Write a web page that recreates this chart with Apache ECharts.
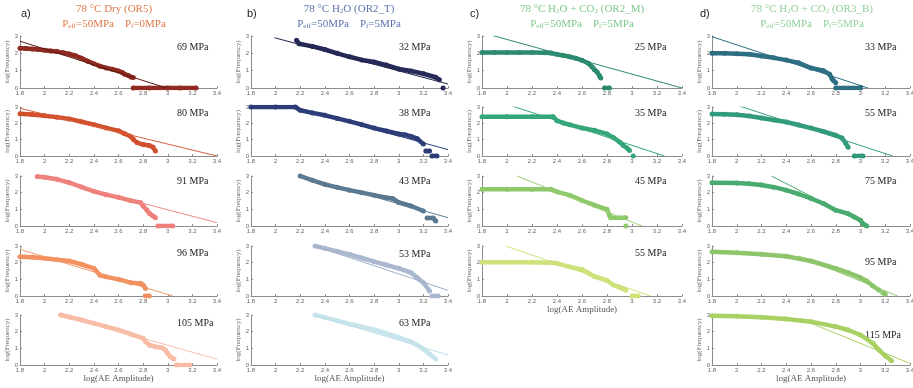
<!DOCTYPE html>
<html><head><meta charset="utf-8">
<script src="https://cdn.jsdelivr.net/npm/echarts@6/dist/echarts.min.js"></script>
<style>html,body{margin:0;padding:0;background:#fff}#c{width:913px;height:388px}</style>
</head><body><div id="c"></div>
<script>
// ---------- DATA (log(AE Amplitude), log(Frequency)) ; '-' breaks a run ----------
// a) 78 °C Dry (OR5)
const a69  = [[1.8,2.3],[1.85,2.28],[1.9,2.25],[1.95,2.22],[2.0,2.18],[2.05,2.14],[2.1,2.1],[2.15,2.04],[2.2,1.96],[2.25,1.86],[2.3,1.72],[2.35,1.55],[2.4,1.4],[2.45,1.26],[2.5,1.16],[2.55,1.08],[2.6,0.98],[2.63,0.9],[2.65,0.8],[2.68,0.72],[2.7,0.64],[2.72,0.6],'-',[2.72,0],[2.85,0],[3.0,0],[3.1,0],[3.23,0]];
const a80  = [[1.8,2.58],[1.9,2.54],[2.0,2.47],[2.1,2.38],[2.2,2.27],[2.3,2.1],[2.4,1.92],[2.5,1.72],[2.6,1.54],[2.65,1.36],[2.7,1.2],[2.72,1.02],[2.75,0.82],[2.8,0.7],[2.85,0.64],[2.88,0.54],[2.9,0.3]];
const a91  = [[1.94,2.97],[2.0,2.92],[2.1,2.8],[2.2,2.6],[2.3,2.34],[2.4,2.08],[2.5,1.88],[2.6,1.72],[2.7,1.52],[2.78,1.4],[2.8,1.2],[2.83,0.96],[2.85,0.76],[2.88,0.6],[2.9,0.5],'-',[2.92,0],[3.04,0]];
const a96  = [[1.8,2.36],[1.9,2.32],[2.0,2.26],[2.1,2.18],[2.2,2.1],[2.3,1.9],[2.4,1.66],[2.45,1.25],[2.5,1.15],[2.6,1.0],[2.7,0.8],[2.78,0.75],[2.8,0.66],[2.82,0.45],'-',[2.82,0],[2.85,0]];
const a105 = [[2.13,3.0],[2.2,2.88],[2.3,2.7],[2.4,2.5],[2.5,2.3],[2.6,2.1],[2.7,1.85],[2.8,1.6],[2.82,1.4],[2.85,1.2],[2.9,1.1],[2.95,1.04],[2.98,0.9],[3.0,0.7],[3.02,0.5],[3.05,0.36],'-',[3.07,0],[3.18,0]];
const fitA = [[[1.8,2.7],[2.99,0]],[[1.8,2.92],[3.4,0]],[[1.95,3.0],[3.4,0.2]],[[1.8,2.8],[3.04,0]],[[2.13,3.0],[3.4,0.35]]];
const stressA = ['69 MPa','80 MPa','91 MPa','96 MPa','105 MPa'];

// b) 78 °C H2O (OR2_T)
const b32 = [[2.17,2.75],[2.19,2.55],[2.3,2.4],[2.4,2.22],[2.5,2.0],[2.6,1.8],[2.7,1.62],[2.8,1.5],[2.9,1.32],[3.0,1.1],[3.1,0.98],[3.2,0.82],[3.3,0.62],[3.33,0.47],'-',[3.36,0]];
const b38 = [[1.8,3.0],[2.0,3.0],[2.16,3.0],[2.2,2.8],[2.3,2.64],[2.4,2.49],[2.5,2.3],[2.6,2.12],[2.7,1.92],[2.8,1.71],[2.9,1.53],[3.0,1.35],[3.05,1.3],[3.1,1.2],[3.15,1.06],[3.2,0.73],'-',[3.22,0.3],[3.25,0.3],'-',[3.27,0],[3.31,0]];
const b43 = [[2.2,3.0],[2.3,2.74],[2.4,2.5],[2.5,2.32],[2.6,2.15],[2.7,2.0],[2.8,1.85],[2.9,1.7],[2.95,1.65],[3.0,1.41],[3.1,1.2],[3.2,0.9],'-',[3.23,0.48],[3.28,0.48],[3.3,0.3]];
const b53 = [[2.32,3.0],[2.4,2.86],[2.5,2.68],[2.6,2.5],[2.7,2.28],[2.8,2.06],[2.9,1.86],[3.0,1.66],[3.1,1.4],[3.15,1.1],[3.2,0.8],[3.25,0.3],'-',[3.27,0],[3.32,0]];
const b63 = [[2.32,3.0],[2.4,2.86],[2.5,2.66],[2.6,2.46],[2.7,2.3],[2.8,2.12],[2.9,1.9],[3.0,1.66],[3.1,1.4],[3.15,1.2],[3.2,0.96],[3.25,0.66],[3.3,0.36]];
const fitB = [[[1.99,2.9],[3.4,0.23]],[[2.17,2.95],[3.4,0.39]],[[2.2,3.0],[3.4,0.5]],[[2.32,3.0],[3.4,0.34]],[[2.32,3.0],[3.4,0.6]]];
const stressB = ['32 MPa','38 MPa','43 MPa','53 MPa','63 MPa'];

// c) 78 °C H2O + CO2 (OR2_M)
const c25 = [[1.8,2.05],[1.9,2.05],[2.0,2.05],[2.1,2.05],[2.2,2.05],[2.3,2.04],[2.35,2.02],[2.4,1.94],[2.45,1.88],[2.5,1.8],[2.55,1.72],[2.6,1.6],[2.65,1.43],[2.68,1.22],[2.7,1.06],[2.72,0.92],[2.74,0.71],[2.75,0.57],'-',[2.78,0],[2.82,0]];
const c35 = [[1.8,2.4],[2.0,2.4],[2.2,2.4],[2.37,2.4],[2.4,2.16],[2.45,2.02],[2.5,1.92],[2.6,1.71],[2.7,1.57],[2.8,1.35],[2.85,1.14],[2.9,0.86],[2.93,0.65],[2.96,0.49],[2.98,0.33],'-',[3.01,0]];
const c45 = [[1.8,2.2],[2.0,2.2],[2.2,2.2],[2.35,2.2],[2.4,2.05],[2.5,1.85],[2.6,1.53],[2.7,1.25],[2.8,1.0],[2.82,0.64],[2.83,0.5],[2.95,0.5],'-',[2.95,0]];
const c55 = [[1.8,2.02],[2.0,2.02],[2.2,2.02],[2.35,2.0],[2.4,1.96],[2.5,1.75],[2.6,1.59],[2.65,1.38],[2.7,1.17],[2.8,0.93],[2.85,0.66],[2.9,0.52],[2.95,0.35],'-',[3.0,0],[3.05,0]];
const fitC = [[[1.89,3.02],[3.4,0]],[[2.05,3.04],[3.26,0]],[[2.08,3.0],[3.08,0]],[[1.99,3.0],[3.15,0]]];
const stressC = ['25 MPa','35 MPa','45 MPa','55 MPa'];

// d) 78 °C H2O + CO2 (OR3_B)
const d33  = [[1.8,2.01],[1.9,2.0],[2.0,1.98],[2.1,1.95],[2.2,1.85],[2.3,1.74],[2.4,1.61],[2.5,1.45],[2.6,1.15],[2.7,1.0],[2.75,0.8],[2.77,0.54],'-',[2.78,0.45],[2.8,0.3],'-',[2.8,0],[3.0,0],'-',[3.0,0.05]];
const d55  = [[1.8,2.57],[1.9,2.56],[2.0,2.53],[2.1,2.45],[2.2,2.33],[2.3,2.2],[2.4,2.08],[2.5,1.9],[2.6,1.71],[2.7,1.5],[2.8,1.27],[2.85,1.1],[2.88,0.8],[2.9,0.53],'-',[2.95,0],[3.02,0]];
const d75  = [[1.8,2.6],[2.0,2.58],[2.1,2.54],[2.2,2.46],[2.3,2.33],[2.4,2.15],[2.5,1.92],[2.6,1.65],[2.7,1.35],[2.8,0.95],[2.9,0.74],[2.95,0.54],[3.0,0.34],[3.02,0.14],[3.05,0]];
const d95  = [[1.8,2.65],[2.0,2.6],[2.2,2.5],[2.4,2.38],[2.6,2.1],[2.8,1.65],[2.9,1.4],[3.0,1.1],[3.05,0.9],[3.1,0.6],[3.15,0.35],'-',[3.18,0.2],[3.2,0.1]];
const d115 = [[1.8,2.95],[2.0,2.92],[2.2,2.86],[2.4,2.76],[2.6,2.6],[2.8,2.3],[2.9,2.1],[3.0,1.8],[3.1,1.3],[3.15,0.9],[3.2,0.55],[3.25,0.25]];
const fitD = [[[1.8,2.96],[3.06,0]],[[2.03,3.04],[3.26,0]],[[2.28,3.0],[3.07,0]],[[2.5,2.4],[3.3,0]],[[2.6,2.5],[3.4,0.1]]];
const stressD = ['33 MPa','55 MPa','75 MPa','95 MPa','115 MPa'];

const xTicks = [1.8, 2, 2.2, 2.4, 2.6, 2.8, 3, 3.2, 3.4];
const yTicks = [0, 1, 2, 3];

// ---------- LAYOUT / STYLE ----------
const dataByCol   = [[a69,a80,a91,a96,a105],[b32,b38,b43,b53,b63],[c25,c35,c45,c55],[d33,d55,d75,d95,d115]];
const fitsByCol   = [fitA, fitB, fitC, fitD];
const stressByCol = [stressA, stressB, stressC, stressD];
const bandColors = [
  ['#8e2a20','#d0502c','#ee7f7a','#f29060','#f8bba5'],
  ['#262a58','#2c3d78','#5a7890','#a9b7cf','#c8e4ec'],
  ['#2b8a70','#35a679','#8dc86b','#cde27a'],
  ['#2d6e82','#329a7c','#4aab70','#8ec56b','#a9d063']];
const fitColors = [
  ['#5e1a14','#d9603a','#ee8a85','#f09a6a','#f8c0aa'],
  ['#20234a','#2c3d78','#5e7f98','#9fb0c8','#bcdde6'],
  ['#2b8a70','#35a679','#9ccf78','#cde27a'],
  ['#2d6e82','#3aa080','#4aab70','#8ec56b','#a9d063']];
const titleColors = ['#e07a4a','#5b72ad','#7dc98a','#8fd09a'];
const colLefts = [20, 251, 482, 712];
const colWidths = [197, 197, 200, 198];
const rowTops = [36, 107, 176, 246, 315];
const rowHeights = [52, 49, 50, 50, 50];
const labelDx = [157, 148, 153, 153];
const labelDy = [[11,6,5,7,8],[11,6,5,8,8],[11,6,5,7],[11,6,5,16,20]];
const titles1 = ['78 °C Dry (OR5)','78 °C H{s|2}O (OR2_T)','78 °C H{s|2}O + CO{s|2} (OR2_M)','78 °C H{s|2}O + CO{s|2} (OR3_B)'];
const titles2 = ['P{s|eff}=50MPa    P{s|f}=0MPa','P{s|eff}=50MPa    P{s|f}=5MPa','P{s|eff}=50MPa    P{s|f}=5MPa','P{s|eff}=50MPa    P{s|f}=5MPa'];
const titleX = [114, 349, 582, 812];
const letters = ['a)','b)','c)','d)'];
const letterX = [21, 247, 470, 700];

const grid=[], xAxis=[], yAxis=[], series=[], graphic=[];
const axisCol = '#8c8c8c';
dataByCol.forEach((col, ci) => {
  col.forEach((pts, ri) => {
    const idx = grid.length;
    const isBottom = ri === col.length - 1;
    grid.push({left: colLefts[ci], top: rowTops[ri], width: colWidths[ci], height: rowHeights[ri], containLabel:false, outerBoundsMode:'none'});
    xAxis.push({type:'value', gridIndex: idx, min: xTicks[0], max: xTicks[xTicks.length-1], interval: 0.2,
      axisLine:{onZero:false, lineStyle:{color:axisCol, width:1}},
      axisTick:{show:true, inside:true, length:2, lineStyle:{color:axisCol}},
      splitLine:{show:false},
      axisLabel:{fontSize:6, color:'#666', margin:2, fontFamily:'Liberation Sans', showMinLabel:true, showMaxLabel:true,
        formatter: v => String(+(+v).toFixed(1))},
      name: isBottom ? 'log(AE Amplitude)' : '', nameLocation:'middle', nameGap: 9,
      nameTextStyle:{fontFamily:'Liberation Serif', fontSize:9, color:'#555'}});
    yAxis.push({type:'value', gridIndex: idx, min: yTicks[0], max: yTicks[yTicks.length-1], interval: 1,
      axisLine:{show:true, lineStyle:{color:axisCol, width:1}},
      axisTick:{show:true, inside:true, length:2, lineStyle:{color:axisCol}},
      splitLine:{show:false},
      axisLabel:{fontSize:6, color:'#666', margin:2, fontFamily:'Liberation Sans'},
      name:'log(Frequency)', nameLocation:'middle', nameGap:7, nameRotate:90,
      nameTextStyle:{fontFamily:'Liberation Serif', fontSize:7, color:'#666'}});
    series.push({type:'line', xAxisIndex: idx, yAxisIndex: idx, data: pts, symbol:'circle', symbolSize:5, showSymbol:true,
      connectNulls:false, lineStyle:{width:4.5, color: bandColors[ci][ri]}, itemStyle:{color: bandColors[ci][ri]}, silent:true, z:2});
    series.push({type:'line', xAxisIndex: idx, yAxisIndex: idx, data: fitsByCol[ci][ri], symbol:'none',
      lineStyle:{width:1, color: fitColors[ci][ri]}, silent:true, z:3});
    graphic.push({type:'text', x: colLefts[ci] + labelDx[ci], y: rowTops[ri] + labelDy[ci][ri],
      style:{text: stressByCol[ci][ri], fontFamily:'Liberation Serif', fontSize:10, fill:'#222', verticalAlign:'middle', align:'left'}});
  });
  const rich = {s:{fontSize:7, fill: titleColors[ci], fontFamily:'Liberation Serif', padding:[5,0,0,0]}};
  graphic.push({type:'text', x: titleX[ci], y: 9, style:{text: titles1[ci], rich, fontFamily:'Liberation Serif', fontSize:11, fill: titleColors[ci], align:'center', verticalAlign:'middle'}});
  graphic.push({type:'text', x: titleX[ci], y: 24, style:{text: titles2[ci], rich, fontFamily:'Liberation Serif', fontSize:11, fill: titleColors[ci], align:'center', verticalAlign:'middle'}});
  graphic.push({type:'text', x: letterX[ci], y: 14, style:{text: letters[ci], fontFamily:'Liberation Sans', fontSize:11, fill:'#222', align:'left', verticalAlign:'middle'}});
});

const chart = echarts.init(document.getElementById('c'), null, {renderer:'canvas'});
chart.setOption({animation:false, backgroundColor:'#fff', grid, xAxis, yAxis, series, graphic});
</script></body></html>
